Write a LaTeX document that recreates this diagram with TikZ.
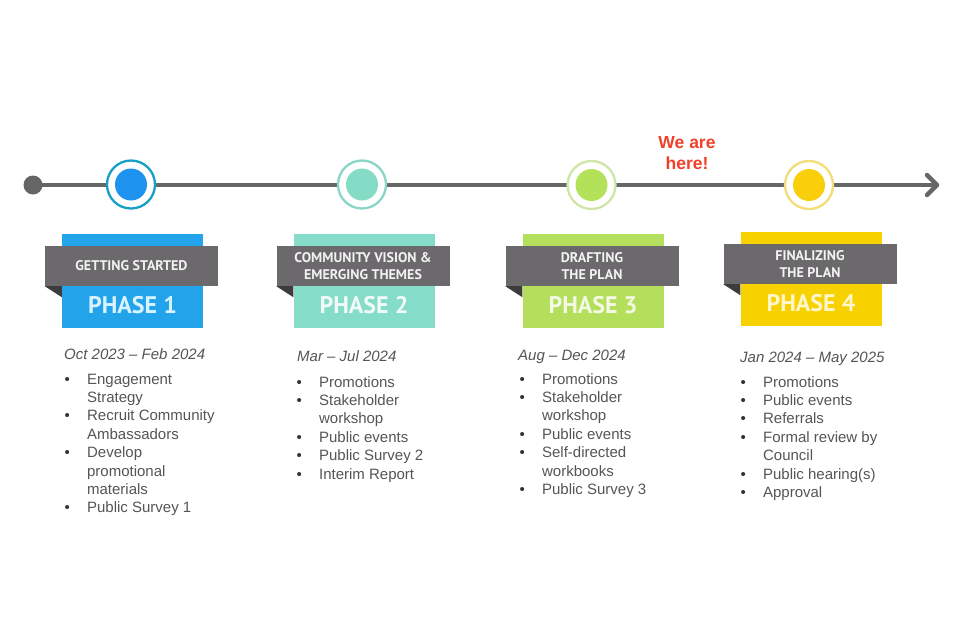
\documentclass[tikz,border=0pt]{standalone}
\usepackage{fontspec}
\setmainfont{Liberation Sans}
\newfontfamily\ptsans{PT Sans}
\definecolor{tlgray}{HTML}{666666}
\definecolor{bangray}{HTML}{6B696B}
\definecolor{foldgray}{HTML}{3C3C3C}
\definecolor{bodytext}{HTML}{555555}
\definecolor{bulletcol}{HTML}{333333}
\definecolor{herered}{HTML}{F0402A}
\definecolor{boxA}{HTML}{22A3EA}\definecolor{inA}{HTML}{1D93EF}\definecolor{ringA}{HTML}{17A0C6}\definecolor{phA}{HTML}{D8F3FF}
\definecolor{boxB}{HTML}{85DCC9}\definecolor{inB}{HTML}{84DCC6}\definecolor{ringB}{HTML}{8AD6C6}\definecolor{phB}{HTML}{F0FBF8}
\definecolor{boxC}{HTML}{B3DF5C}\definecolor{inC}{HTML}{B3E25A}\definecolor{ringC}{HTML}{CFE6A6}\definecolor{phC}{HTML}{F3F9E3}
\definecolor{boxD}{HTML}{F8D100}\definecolor{inD}{HTML}{F9CF0C}\definecolor{ringD}{HTML}{F3DD78}\definecolor{phD}{HTML}{FFF6CC}
\newcommand\bul{\textcolor{bulletcol}{\textbullet}}
\tikzset{
  tl/.style={draw=tlgray,line width=4.5pt},
  startdot/.style={circle,fill=tlgray,minimum size=19pt,inner sep=0pt},
  ring/.style={circle,fill=white,line width=2.3pt,minimum size=48pt,inner sep=0pt},
  dotin/.style={circle,minimum size=32pt,inner sep=0pt},
  phbox/.style={rectangle,minimum width=141pt,minimum height=94pt,inner sep=0pt},
  banner/.style={rectangle,fill=bangray,minimum width=173pt,minimum height=40pt,inner sep=0pt,
     text=white!95!black,align=center,font=\ptsans\bfseries\fontsize{14pt}{17pt}\selectfont},
  phtext/.style={inner sep=0pt,font=\ptsans\bfseries\fontsize{24pt}{28pt}\selectfont},
  datenode/.style={anchor=base west,inner sep=0pt,text=bodytext,font=\itshape\fontsize{15pt}{18pt}\selectfont},
  listnode/.style={anchor=north west,inner sep=0pt,text=bodytext,font=\fontsize{15pt}{18.4pt}\selectfont},
  herenode/.style={align=center,inner sep=0pt,text=herered,font=\bfseries\fontsize{17.5pt}{21pt}\selectfont}
}
\newcommand\PhaseBlock[7]{%
  \node[phbox,fill=#4] (box#1) at (#2,#3) {};
  \node[banner] (ban#1) at ([xshift=-1pt,yshift=14.5pt]box#1.center) {#6};
  \fill[foldgray] (ban#1.south west) -- (ban#1.south west -| box#1.west) -- ([yshift=-11pt]ban#1.south west -| box#1.west) -- cycle;
  \node[phtext,text=#5] (ph#1) at ([yshift=-25pt]box#1.center) {PHASE #7};
}
\begin{document}
\begin{tikzpicture}[x=1pt,y=-1pt]
\useasboundingbox[fill=white] (0,0) rectangle (960,641);
% timeline
\coordinate (tlstart) at (33,185);
\coordinate (tlend) at (937,185);
\draw[tl] (tlstart) -- (tlend);
\draw[tl,line cap=round,line join=round] ([shift={(-10,-10)}]tlend) -- (tlend) -- ([shift={(-10,10)}]tlend);
\node[startdot] (sdot) at (tlstart) {};
% milestones
\node[ring,draw=ringA] (c1) at (131,184.5) {};
\node[dotin,fill=inA] (d1) at (c1) {};
\node[ring,draw=ringB] (c2) at (362,184.5) {};
\node[dotin,fill=inB] (d2) at (c2) {};
\node[ring,draw=ringC] (c3) at (591.5,185) {};
\node[dotin,fill=inC] (d3) at (c3) {};
\node[ring,draw=ringD] (c4) at (809,185) {};
\node[dotin,fill=inD] (d4) at (c4) {};
\node[herenode] (here) at (687,153.5) {We are\\here!};
% phase blocks
\PhaseBlock{1}{132.5}{280.5}{boxA}{phA}{GETTING STARTED}{1}
\PhaseBlock{2}{364}{280.5}{boxB}{phB}{COMMUNITY VISION \&\\EMERGING THEMES}{2}
\PhaseBlock{3}{593}{280.5}{boxC}{phC}{DRAFTING\\THE PLAN}{3}
\PhaseBlock{4}{811}{278.5}{boxD}{phD}{FINALIZING\\THE PLAN}{4}
% dates
\node[datenode] (date1) at (64,359) {Oct 2023 – Feb 2024};
\node[datenode] (date2) at (297,361) {Mar – Jul 2024};
\node[datenode] (date3) at (518,360) {Aug – Dec 2024};
\node[datenode] (date4) at (740,362) {Jan 2024 – May 2025};
% lists
\node[listnode] (list1) at (64.4,371.1) {\begin{tabular}{@{}p{22.5pt}@{}l@{}}
\bul & Engagement\\
 & Strategy\\
\bul & Recruit Community\\
 & Ambassadors\\
\bul & Develop\\
 & promotional\\
 & materials\\
\bul & Public Survey 1
\end{tabular}};
\node[listnode] (list2) at (296.4,374.1) {\begin{tabular}{@{}p{22.5pt}@{}l@{}}
\bul & Promotions\\
\bul & Stakeholder\\
 & workshop\\
\bul & Public events\\
\bul & Public Survey 2\\
\bul & Interim Report
\end{tabular}};
\node[listnode] (list3) at (519.4,371.1) {\begin{tabular}{@{}p{22.5pt}@{}l@{}}
\bul & Promotions\\
\bul & Stakeholder\\
 & workshop\\
\bul & Public events\\
\bul & Self-directed\\
 & workbooks\\
\bul & Public Survey 3
\end{tabular}};
\node[listnode] (list4) at (740.4,374.1) {\begin{tabular}{@{}p{22.5pt}@{}l@{}}
\bul & Promotions\\
\bul & Public events\\
\bul & Referrals\\
\bul & Formal review by\\
 & Council\\
\bul & Public hearing(s)\\
\bul & Approval
\end{tabular}};
\end{tikzpicture}
\end{document}
